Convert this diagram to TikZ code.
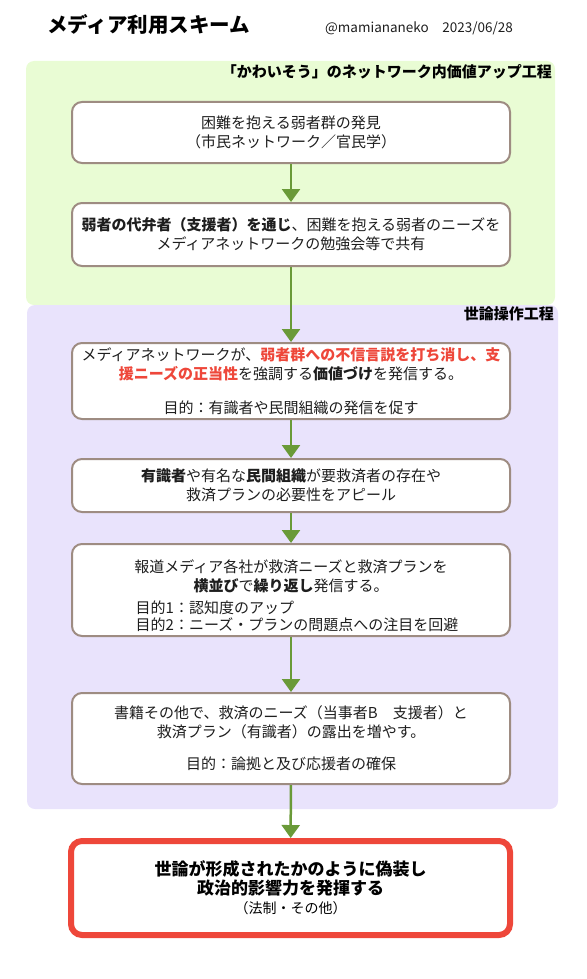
\documentclass[tikz,border=0pt]{standalone}
\usepackage{fontspec}
\setmainfont{Noto Sans CJK JP}
\usepackage{tikz}
\usetikzlibrary{positioning,calc,arrows.meta}
\definecolor{zonegreen}{HTML}{E9FCD4}
\definecolor{zonepurple}{HTML}{E9E3FC}
\definecolor{boxline}{HTML}{9E8C82}
\definecolor{flowgreen}{HTML}{6A9A38}
\definecolor{alertred}{HTML}{EE473A}
\definecolor{bodytext}{HTML}{1E1E1E}

\begin{document}
\begin{tikzpicture}[x=1pt, y=-1pt,
    zone/.style={rounded corners=8pt},
    zonelabel/.style={anchor=east, inner sep=0pt, font=\fontsize{15}{18}\selectfont\bfseries},
    stepbox/.style={draw=boxline, line width=2pt, fill=white, rounded corners=10pt,
        minimum width=438pt, align=center, text=bodytext, inner sep=0pt,
        font=\fontsize{15}{19}\selectfont},
    goalbox/.style={draw=alertred, line width=6pt, fill=white, rounded corners=11pt,
        minimum width=439pt, minimum height=94pt, align=center, inner sep=0pt,
        font=\fontsize{17}{19}\selectfont\bfseries},
    flow/.style={draw=flowgreen, line width=2.5pt, -{Triangle[width=18pt,length=13pt]}}]

    \useasboundingbox (0,0) rectangle (586,979);

    % Heading
    \node[anchor=west, inner sep=0pt, font=\fontsize{20.5}{24}\selectfont\bfseries] (title) at (47,25) {メディア利用スキーム};
    \node[anchor=west, inner sep=0pt, font=\fontsize{13.5}{16}\selectfont, text=bodytext] (handle) at (325,28) {@mamiananeko\quad 2023/06/28};

    % Background zones
    \fill[zonegreen, zone] (26,61) rectangle (555,305);
    \fill[zonepurple, zone] (27,305) rectangle (558,809);
    \node[zonelabel] (greenlabel) at (552,72) {「かわいそう」のネットワーク内価値アップ工程};
    \node[zonelabel] (purplelabel) at (554,314) {世論操作工程};

    % Steps in the green zone
    \node[stepbox, minimum height=61pt] (find) at (291,132.5)
        {困難を抱える弱者群の発見\\（市民ネットワーク／官民学）};
    \node[stepbox, minimum height=63pt] (share) at (291,234.5)
        {\textbf{弱者の代弁者（支援者）を通じ}、困難を抱える弱者のニーズを\\メディアネットワークの勉強会等で共有};

    % Steps in the purple zone
    \node[stepbox, minimum height=76pt] (value) at (291,381)
        {メディアネットワークが、\textcolor{alertred}{\textbf{弱者群への不信言説を打ち消し、支}}\\
         \textcolor{alertred}{\textbf{援ニーズの正当性}}を強調する\textbf{価値づけ}を発信する。\\[15pt]
         目的：有識者や民間組織の発信を促す};
    \node[stepbox, minimum height=53pt] (appeal) at (291,485.5)
        {\textbf{有識者}や有名な\textbf{民間組織}が要救済者の存在や\\救済プランの必要性をアピール};
    \node[stepbox, minimum height=92pt] (repeat) at (291,590)
        {\rule{0pt}{28pt}報道メディア各社が救済ニーズと救済プランを\\
         \textbf{横並び}で\textbf{繰り返し}発信する。\\[6pt]
         \hspace*{12pt}\begin{tabular}{@{}l@{}}目的1：認知度のアップ\\[-2pt]目的2：ニーズ・プランの問題点への注目を回避\end{tabular}};
    \node[stepbox, minimum height=91pt] (books) at (291,738.5)
        {書籍その他で、救済のニーズ（当事者B　支援者）と\\
         救済プラン（有識者）の露出を増やす。\\[13pt]
         目的：論拠と及び応援者の確保};

    % Outcome
    \node[goalbox] (goal) at (290.5,888)
        {世論が形成されたかのように偽装し\\政治的影響力を発揮する\\
         \mdseries\fontsize{14}{17}\selectfont （法制・その他）};

    % Connectors
    \draw[flow] (find) -- (share);
    \draw[flow] (share) -- (value);
    \draw[flow] (value) -- (appeal);
    \draw[flow] (appeal) -- (repeat);
    \draw[flow] (repeat) -- (books);
    \draw[flow] (books) -- (goal);
\end{tikzpicture}
\end{document}
